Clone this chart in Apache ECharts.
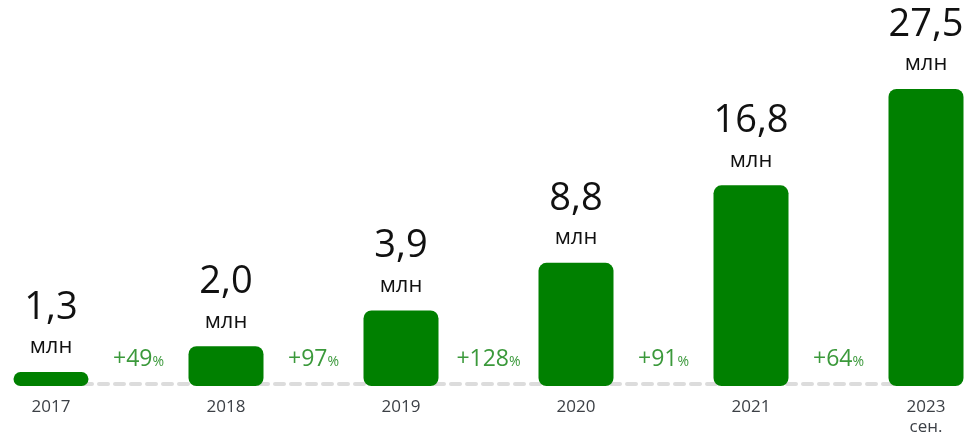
<!DOCTYPE html>
<html>
<head>
<meta charset="utf-8">
<script src="https://cdn.jsdelivr.net/npm/echarts@6/dist/echarts.min.js"></script>
<style>
  html, body { margin: 0; padding: 0; background: #fff; }
  #chart { width: 966px; height: 437px; }
</style>
</head>
<body>
<div id="chart"></div>
<script>
  // годы
  var years = ['2017', '2018', '2019', '2020', '2021', '2023\nсен.'];
  // подписи значений (млн)
  var valueLabels = ['1,3', '2,0', '3,9', '8,8', '16,8', '27,5'];
  // высота столбцов на картинке (шкала не линейная)
  var barHeights = [14, 40, 76, 124, 202, 299];
  // прирост между столбцами
  var growth = ['+49', '+97', '+128', '+91', '+64'];
  var growthPos = [0.5, 1.5, 2.5, 3.5, 4.5];
  var growthLevel = 27;

  var chart = echarts.init(document.getElementById('chart'));

  chart.setOption({
    animation: false,
    grid: { left: 51, right: 40, top: 88, bottom: 49 },
    xAxis: [
      {
        type: 'category',
        data: years,
        boundaryGap: false,
        offset: -2,
        axisTick: { show: false },
        axisLine: {
          lineStyle: { color: '#dcdcdc', width: 4, type: [9, 7] }
        },
        axisLabel: {
          margin: 13,
          fontSize: 17,
          lineHeight: 20,
          color: '#3c4046',
          fontFamily: 'Open Sans',
          verticalAlign: 'top'
        }
      },
      { type: 'value', min: 0, max: 5, show: false }
    ],
    yAxis: { type: 'value', min: 0, max: 300, show: false },
    series: [
      {
        type: 'bar',
        data: barHeights,
        barWidth: 75,
        clip: false,
        itemStyle: { color: '#008000', borderRadius: 8 },
        label: {
          show: true,
          position: 'top',
          distance: 11,
          fontFamily: 'Open Sans',
          formatter: function (p) {
            return '{v|' + valueLabels[p.dataIndex] + '}\n{u|млн}';
          },
          rich: {
            v: { fontSize: 38, lineHeight: 50, color: '#111', fontFamily: 'Open Sans' },
            u: { fontSize: 22, lineHeight: 28, color: '#111', fontFamily: 'Open Sans' }
          }
        }
      },
      {
        type: 'scatter',
        xAxisIndex: 1,
        symbolSize: 0,
        data: growthPos.map(function (x) { return [x, growthLevel]; }),
        label: {
          show: true,
          position: 'inside',
          formatter: function (p) {
            return '{p|' + growth[p.dataIndex] + '}{s|%}';
          },
          rich: {
            p: { fontSize: 23, color: '#0a800a', fontFamily: 'Open Sans', lineHeight: 26 },
            s: { fontSize: 14, color: '#0a800a', fontFamily: 'Open Sans', padding: [5, 0, 0, 0] }
          }
        }
      }
    ]
  });
</script>
</body>
</html>
